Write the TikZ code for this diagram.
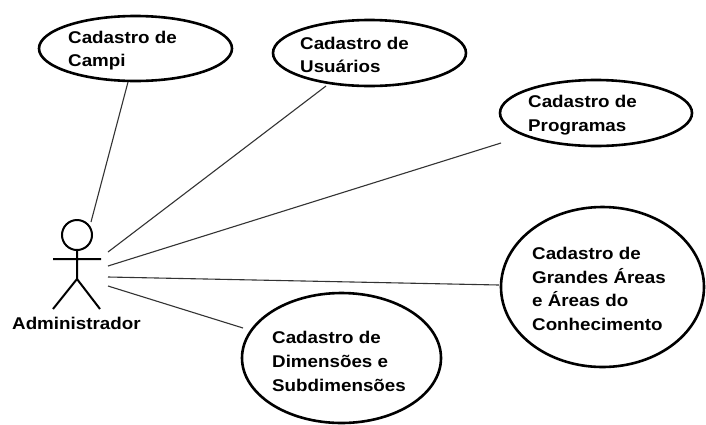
\documentclass[tikz,border=0pt]{standalone}
\usepackage{fontspec}
\setmainfont[FakeStretch=1.105]{Liberation Sans}
\usetikzlibrary{shapes.geometric}
\tikzset{
 uc/.style={ellipse,draw=black,line width=2.6pt,fill=white,inner sep=0pt},
 lab/.style={align=left,anchor=west,font=\bfseries\fontsize{17pt}{23.7pt}\selectfont,inner sep=0pt},
 ln/.style={draw=black!80,line width=1.1pt},
 stick/.style={draw=black,line width=2pt}
}
\begin{document}
\begin{tikzpicture}[x=1pt,y=-1pt]
\useasboundingbox (0,0) rectangle (706,424);
\fill[white] (0,0) rectangle (706,424);
\node[uc,minimum width=193pt,minimum height=65pt] (campi) at (135.5,48.5) {};
\node[uc,minimum width=193pt,minimum height=66pt] (usu) at (369.5,53) {};
\node[uc,minimum width=192pt,minimum height=66pt] (prog) at (596,113) {};
\node[uc,minimum width=203pt,minimum height=160pt] (areas) at (602.5,287) {};
\node[uc,minimum width=199pt,minimum height=130pt] (dim) at (341.5,358) {};
\node[lab] (tcampi) at (68,50.5) {Cadastro de\\Campi};
\node[lab] (tusu) at (300,55) {Cadastro de\\Usuários};
\node[lab] (tprog) at (528,115) {Cadastro de\\Programas};
\node[lab] (tareas) at (532,289) {Cadastro de\\Grandes Áreas\\e Áreas do\\Conhecimento};
\node[lab] (tdim) at (272,361.5) {Cadastro de\\Dimensões e\\Subdimensões};
\node[lab] (adm) at (12,323) {Administrador};
\node[circle,stick,minimum size=30pt,inner sep=0pt] (head) at (77,235) {};
\coordinate (hip) at (77,279);
\coordinate (arml) at (53,259);
\coordinate (armr) at (101,259);
\coordinate (footl) at (53,309);
\coordinate (footr) at (100,309);
\draw[stick] (head.south)--(hip) (arml)--(armr) (footl)--(hip)--(footr);
\coordinate (a1) at (91,222);
\coordinate (a2) at (108,252);
\coordinate (a3) at (108,266);
\coordinate (a4) at (108,277);
\coordinate (a5) at (108,286);
\coordinate (e1) at (128,82);
\coordinate (e2) at (326,86);
\coordinate (e3) at (501,143);
\coordinate (e4) at (499,285);
\coordinate (e5) at (243,328);
\draw[ln] (a1)--(e1);
\draw[ln] (a2)--(e2);
\draw[ln] (a3)--(e3);
\draw[ln] (a4)--(e4);
\draw[ln] (a5)--(e5);
\end{tikzpicture}
\end{document}
